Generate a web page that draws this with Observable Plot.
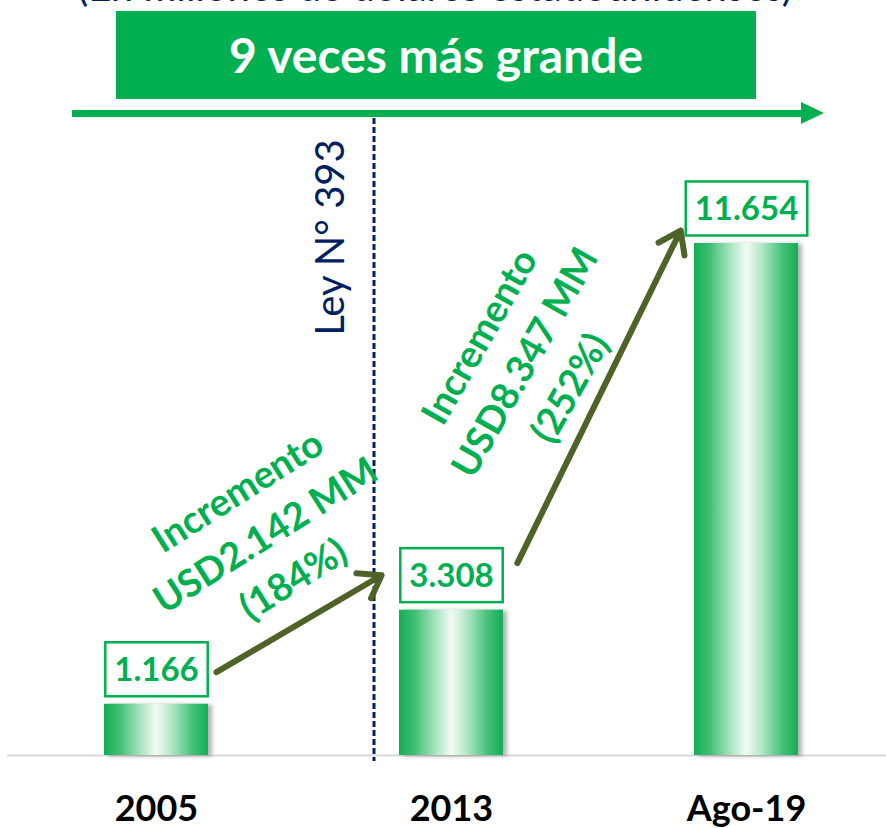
<!DOCTYPE html>
<html><head><meta charset="utf-8">
<script src="https://cdn.jsdelivr.net/npm/d3@7"></script>
<script src="https://cdn.jsdelivr.net/npm/@observablehq/plot@0.6"></script>
<style>
html,body{margin:0;padding:0;background:#fff;overflow:hidden;width:886px;height:828px}
#header{position:relative;width:886px;height:118px;font-family:Lato,sans-serif}
#sub{position:absolute;left:0;top:-34px;width:870px;text-align:center;font-size:40px;line-height:40px;color:#002060;white-space:nowrap}
#box{position:absolute;left:116px;top:11px;width:640px;height:88px;background:#00b050;color:#fff;font-weight:700;font-size:48px;line-height:88px;text-align:center;white-space:nowrap}
#line{position:absolute;left:72px;top:110px;width:730px;height:7px;background:#00b050}
#head{position:absolute;left:801px;top:102px;width:0;height:0;border-left:23px solid #00b050;border-top:11.5px solid transparent;border-bottom:11.5px solid transparent}
#chart svg{display:block}
</style></head><body>
<div id="header"><div id="sub"></div><div id="box"></div><div id="line"></div><div id="head"></div></div>
<div id="chart"></div>
<script>
// ---- data ----
const categories = ["2005", "2013", "Ago-19"];
const values = [1166, 3308, 11654];
const valueLabels = ["1.166", "3.308", "11.654"];
const increments = ["Incremento\nUSD2.142 MM\n(184%)", "Incremento\nUSD8.347 MM\n(252%)"];
const lawLabel = "Ley N° 393";
const lawCategory = "2013";
const titleText = "9 veces más grande";
const subtitleText = "(En millones de dólares estadounidenses)";

document.getElementById("sub").textContent = subtitleText;
document.getElementById("box").textContent = titleText;

const GREEN = "#00b050", NAVY = "#002060", OLIVE = "#4f6228";

const xOpts = {type: "band", domain: categories, range: [103, 799], paddingInner: 0.6467, paddingOuter: 0, align: 0.5};
const yOpts = {type: "linear", domain: [0, 11654], range: [637, 125]};
const xS = Plot.scale({x: xOpts});
const yS = Plot.scale({y: yOpts});
const bw = xS.bandwidth;
const cx = c => xS.apply(c) + bw / 2;

const bars = categories.map((c, i) => ({cat: c, value: values[i], label: valueLabels[i]}));

// arrow tail/head pixel offsets relative to bar centre / bar top
const arrowOffsets = [
  {tdx: 60, tdy: -32, hdx: -70, hdy: -35},
  {tdx: 66, tdy: -47, hdx: -66, hdy: -13}
];
const arrowMarks = increments.map((_, i) => {
  const o = arrowOffsets[i];
  const from = categories[i], to = categories[i + 1];
  const fx = cx(from), tx = cx(to);
  const t = [fx + o.tdx, yS.apply(values[i]) + o.tdy];
  const h = [tx + o.hdx, yS.apply(values[i + 1]) + o.hdy];
  const m = (h[1] - t[1]) / (h[0] - t[0]);
  const k = Math.hypot(1, m);
  const Y1 = t[1] + m * (fx - t[0]);
  const Y2 = h[1] + m * (tx - h[0]);
  return Plot.arrow([{from, to, v1: yS.invert(Y1), v2: yS.invert(Y2)}], {
    x1: "from", x2: "to", y1: "v1", y2: "v2",
    insetStart: Math.abs(t[0] - fx) * k, insetEnd: Math.abs(tx - h[0]) * k,
    stroke: OLIVE, strokeWidth: 6, headLength: 6.3, headAngle: 70,
    strokeLinecap: "round", strokeLinejoin: "round"
  });
});

const annotStyle = [
  {dx: -188, dy: -78, rotate: -32.3},
  {dx: -225, dy: 117, rotate: -60.5}
];
const annotMarks = increments.map((txt, i) => Plot.text([txt], {
  x: () => categories[i + 1], y: () => values[i + 1], text: d => d,
  dx: annotStyle[i].dx, dy: annotStyle[i].dy, rotate: annotStyle[i].rotate,
  fontSize: 38, fontWeight: "bold", fill: GREEN, lineHeight: 1.37,
  textAnchor: "middle", lineAnchor: "middle"
}));

const plot = Plot.plot({
  width: 886, height: 710,
  marginTop: 125, marginBottom: 73, marginLeft: 103, marginRight: 87,
  style: {fontFamily: "Lato, sans-serif", background: "white", overflow: "visible"},
  x: {...xOpts, axis: null},
  y: {...yOpts, axis: null},
  marks: [
    Plot.ruleY([0], {stroke: "#d9d9d9", strokeWidth: 2, insetLeft: -96, insetRight: -87}),
    Plot.barY(bars, {x: "cat", y: "value", fill: "url(#barGrad)"}),
    Plot.ruleX([lawCategory], {x: d => d, dx: -77.5, stroke: NAVY, strokeWidth: 3, strokeDasharray: "6,3", insetTop: -125, insetBottom: -6}),
    Plot.text([lawLabel], {x: () => lawCategory, frameAnchor: "top", text: d => d, dx: -120, dy: -6, rotate: -90,
      fontSize: 40, fill: NAVY, textAnchor: "middle", lineAnchor: "middle"}),
    ...arrowMarks,
    ...annotMarks,
    Plot.text(bars, {x: "cat", y: "value", text: "label", dy: -34, fontSize: 33, fontWeight: "bold", fill: GREEN,
      textAnchor: "middle", lineAnchor: "middle"}),
    Plot.axisX({tickSize: 0, tickPadding: 40, fontSize: 36, fontWeight: "bold", label: null})
  ]
});
document.getElementById("chart").append(plot);

// gradient + shadow for bars
const svgSel = d3.select(plot);
const defs = svgSel.insert("defs", ":first-child");
const grad = defs.append("linearGradient").attr("id", "barGrad").attr("x1", 0).attr("x2", 1).attr("y1", 0).attr("y2", 0);
[[0, "#12ad55"], [0.15, "#3fbf74"], [0.35, "#a8e3bf"], [0.5, "#f2fbf5"], [0.65, "#b2e7c6"], [0.85, "#45c27a"], [1, "#12ad55"]]
  .forEach(([o, c]) => grad.append("stop").attr("offset", o).attr("stop-color", c));
svgSel.selectAll('g[aria-label="bar"] rect').style("filter", "drop-shadow(4px 1px 2px rgba(0,0,0,0.3))");

// boxes around value labels
svgSel.selectAll("text").filter(function () { return valueLabels.includes(this.textContent); }).each(function () {
  const b = this.getBBox();
  const r = document.createElementNS("http://www.w3.org/2000/svg", "rect");
  r.setAttribute("x", b.x - 9);
  r.setAttribute("width", b.width + 18);
  r.setAttribute("y", -28);
  r.setAttribute("height", 54);
  const tr = this.getAttribute("transform");
  if (tr) r.setAttribute("transform", tr);
  r.setAttribute("fill", "white");
  r.setAttribute("stroke", GREEN);
  r.setAttribute("stroke-width", 2.5);
  this.parentNode.insertBefore(r, this);
});
</script>
</body></html>
